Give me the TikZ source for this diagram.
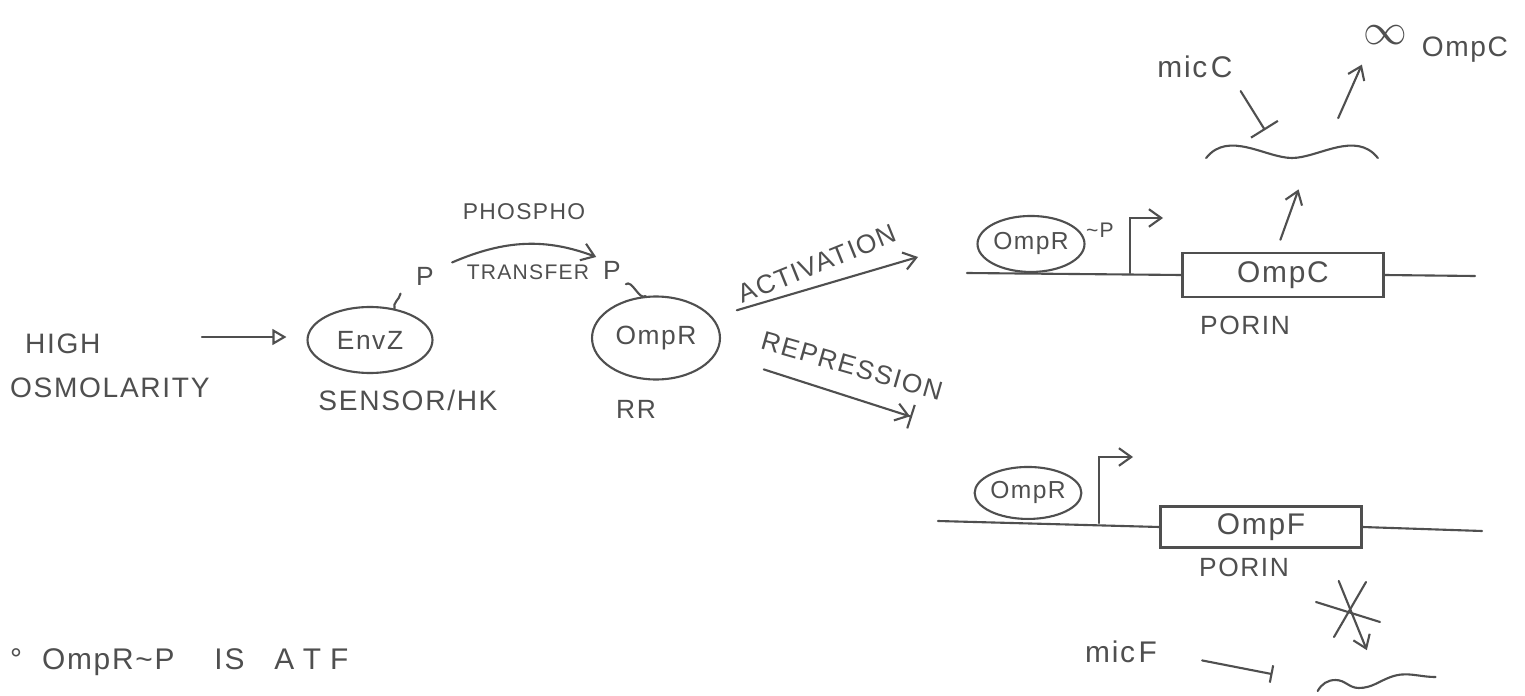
\documentclass[tikz,border=0pt]{standalone}
\usepackage{fontspec}
\setmainfont{Liberation Sans}[LetterSpace=6]
\usetikzlibrary{positioning, arrows.meta, shapes.geometric}
\definecolor{cpencil}{HTML}{4F4F4F}

\begin{document}
\begin{tikzpicture}[
  x=0.02cm, y=-0.02cm,
  font=\fontsize{15}{24}\selectfont,
  every node/.append style={text=cpencil},
  lbl/.style={inner sep=1pt},
  smalltxt/.style={font=\fontsize{12}{14}\selectfont},
  midtxt/.style={font=\fontsize{16}{25}\selectfont},
  bigtxt/.style={font=\fontsize{17}{20}\selectfont},
  pencil/.style={draw=cpencil, line width=1.2pt, line cap=round},
  blob/.style={
    ellipse, draw=cpencil, line width=1.2pt,
    inner sep=0pt
  },
  geneblob/.style={blob, font=\fontsize{14}{16}\selectfont},
  genebox/.style={
    rectangle, draw=cpencil, line width=1.2pt,
    inner sep=0pt, font=\fontsize{17}{20}\selectfont
  },
  rnaline/.style={minimum height=0.3cm, inner sep=0pt},
  arr/.style={pencil, -{Straight Barb[length=7pt,width=10pt]}},
  sig/.style={pencil, -{Triangle[open,length=8pt,width=9pt]}},
  inhib/.style={pencil, -{Bar[width=18pt]}},
  rep/.style={pencil, -{Straight Barb[length=7pt,width=10pt,sep=0pt]Bar[width=14pt]}}
]

\fill[white] (0,0) rectangle (1525,696);
\path[use as bounding box] (0,0) rectangle (1525,696);

% signal and two-component system
\node[lbl, midtxt, align=left, anchor=west] (high) at (8,366) {\hspace{0.3cm}HIGH\\OSMOLARITY};
\node[blob, minimum width=2.5cm, minimum height=1.32cm] (envZ) at (370,340) {EnvZ};
\node[lbl, midtxt, below=8pt of envZ, xshift=0.76cm] (sensor) {SENSOR/HK};
\coordinate (sigIn) at (202,337);
\draw[sig, shorten >=0.4cm] (sigIn) -- (sigIn -| envZ.west);

\node[lbl] (pEnv) at (425,276) {P};
\draw[pencil] (envZ.52) to[out=110,in=-100] ++(6,-15);

\node[lbl, font=\fontsize{13}{15}\selectfont] (phospho) at (524,212) {PHOSPHO};
\node[lbl, smalltxt] (transfer) at (528,272) {TRANSFER};
\node[lbl] (pR) at (612,270) {P};
\draw[arr, shorten >=3pt] ([xshift=-0.25cm]transfer.north west) to[bend left=22] (pR.north west);

\node[blob, minimum width=2.56cm, minimum height=1.66cm] (ompR) at (656,338) {OmpR};
\node[lbl, below=10pt of ompR, xshift=-0.4cm] (rr) {RR};
\draw[pencil] ([shift={(3,3)}]pR.south east) .. controls +(6,-5) and +(-6,5) .. (ompR.104);

\node[lbl, rotate=22] (actTxt) at (817,264) {ACTIVATION};
\coordinate (actEnd) at (918,257);
\draw[arr, shorten <=0.5cm] (ompR.20) -- (actEnd);

\node[lbl, rotate=-16] (repTxt) at (852,366) {REPRESSION};
\coordinate (repEnd) at (912,417);
\draw[rep, shorten <=1cm] (ompR.-15) -- (repEnd);

% ompC gene
\coordinate (dnaC) at (967,273);
\coordinate (dnaCend) at (1475,276);
\coordinate (promC) at (1130,273);
\node[geneblob, minimum width=2.14cm, minimum height=1.12cm, anchor=south] (ompRc) at (1031,273) {OmpR};
\node[lbl, smalltxt] (pC) at (1100,230) {\textasciitilde P};
\node[genebox, minimum width=4.02cm, minimum height=0.88cm] (ompC) at (1283,275) {OmpC\hspace{0.7cm}};
\node[lbl] (porinC) at (1245,325) {PORIN};
\draw[pencil] (dnaC) -- (ompC.west);
\draw[pencil] (ompC.east) -- (dnaCend);
\draw[arr] (promC) -- ++(0,-55) -- ++(33,0);

\node[rnaline, minimum width=3.42cm] (mrnaC) at (1292,158) {};
\draw[pencil] (mrnaC.west) .. controls +(22,-28) and +(-26,0) .. (mrnaC.center)
  .. controls +(26,0) and +(-22,-28) .. (mrnaC.east);
\draw[arr, shorten <=0.26cm, shorten >=0.5cm] ([xshift=-0.14cm]ompC.north) -- ([xshift=0.3cm]mrnaC.south);

\node[lbl, bigtxt] (micC) at (1195,67) {m\hspace{1pt}i\hspace{1pt}c\hspace{2pt}C};
\draw[inhib] ([shift={(6,11)}]micC.south east) -- ([shift={(-27,-20)}]mrnaC.north);
\node[lbl] (manyC) at (1436,44) {\raisebox{7pt}{\fontsize{28}{28}\selectfont$\infty$}\hspace{8pt}{\fontsize{16}{18}\selectfont OmpC}};
\draw[arr, shorten <=0.7cm] ([xshift=0.64cm]mrnaC.north) -- (manyC.south west);

% ompF gene
\coordinate (dnaF) at (938,521);
\coordinate (dnaFend) at (1482,531);
\coordinate (promF) at (1099,523);
\node[geneblob, minimum width=2.1cm, minimum height=1.04cm, anchor=south] (ompRf) at (1028,520) {OmpR};
\node[genebox, minimum width=4.02cm, minimum height=0.82cm] (ompF) at (1261,527) {OmpF\hspace{1.04cm}};
\node[lbl] (porinF) at (1244,567) {PORIN};
\draw[pencil] (dnaF) -- (ompF.west);
\draw[pencil] (ompF.east) -- (dnaFend);
\draw[arr] (promF) -- ++(0,-66) -- ++(34,0);

\node[rnaline, minimum width=2.36cm] (mrnaF) at (1377,683) {};
\draw[pencil] ([yshift=-0.16cm]mrnaF.west) to[out=60,in=180] ++(18,-11) to[out=0,in=180] ++(23,8)
  to[out=0,in=200] ++(32,-11) to[out=20,in=180] ++(45,0);
\draw[arr, shorten <=0.7cm, shorten >=0.54cm] ([xshift=-0.74cm]ompF.south east) -- (mrnaF.north);
\coordinate (noF) at (1348,610);
\draw[pencil] (noF) ++(-32,-8) -- ++(64,20);
\draw[pencil] (noF) ++(18,-28) -- ++(-32,55);

\node[lbl, bigtxt] (micF) at (1121,652) {m\hspace{1pt}i\hspace{1pt}c\hspace{2pt}F};
\draw[pencil, -{Bar[width=10pt]}, shorten <=0.88cm, shorten >=0.92cm] (micF.east) -- (mrnaF.west);

\node[lbl, bigtxt, anchor=west] (note) at (8,662) {°\hspace{0.67em}OmpR\textasciitilde P\hspace{1.33em}IS\hspace{1em}A\hspace{5pt}T\hspace{5pt}F};

\end{tikzpicture}
\end{document}
